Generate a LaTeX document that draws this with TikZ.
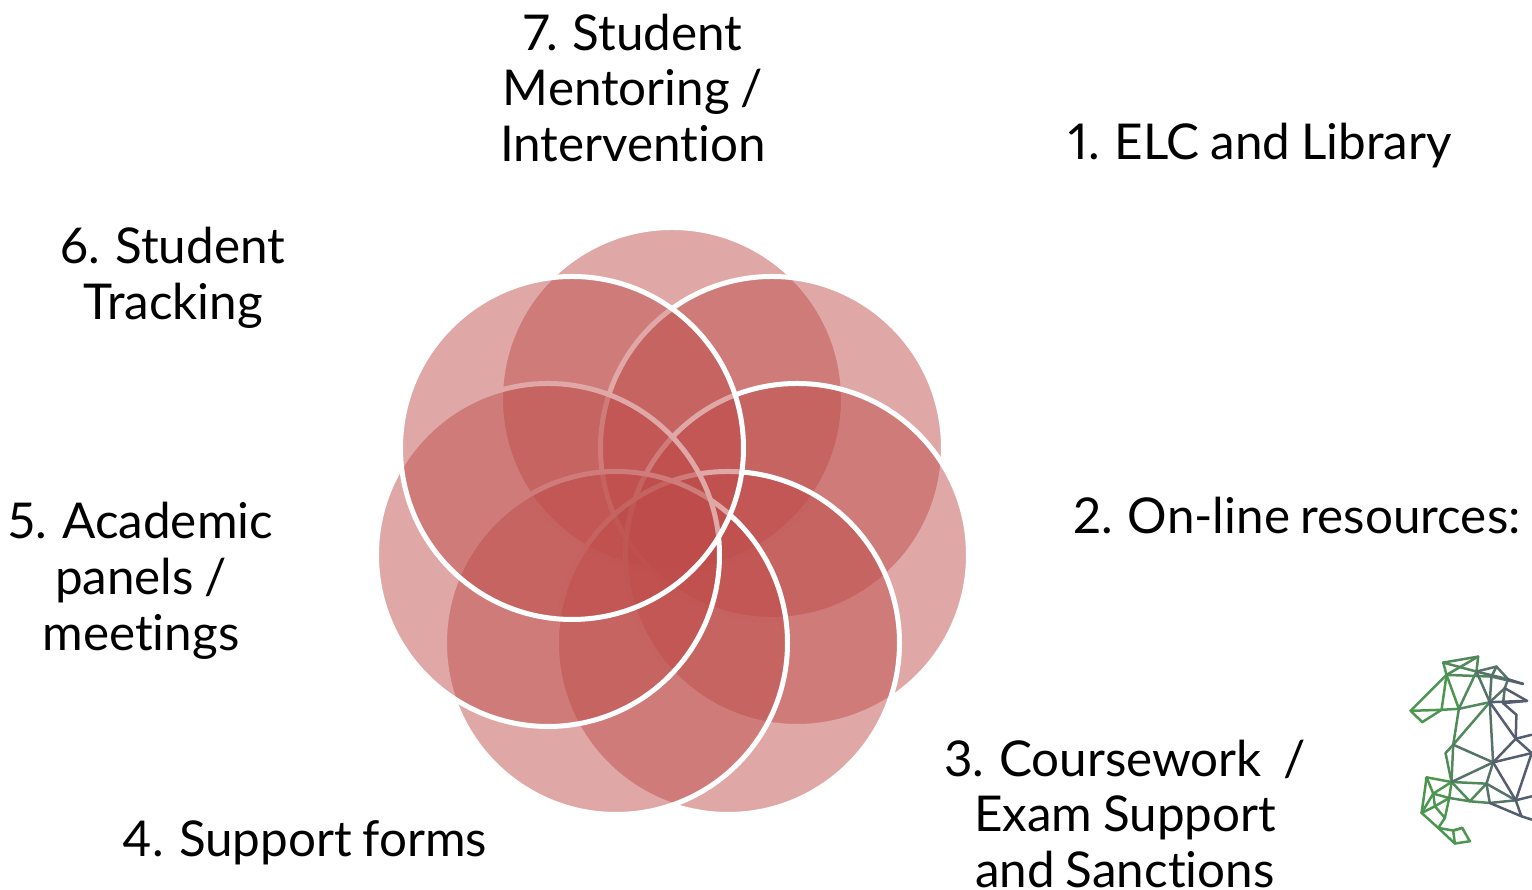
\documentclass[tikz,border=0pt]{standalone}
\usepackage{fontspec}
\setmainfont{Lato}[Numbers=Proportional, Ligatures=NoCommon, WordSpace=0.85]
\definecolor{petalred}{RGB}{189,74,72}
\definecolor{horsegreen}{RGB}{76,150,80}
\definecolor{horsemid}{RGB}{80,138,90}
\definecolor{horseslate}{RGB}{85,115,105}
\definecolor{horsegrey}{RGB}{84,94,112}
\tikzset{
	petal/.style={fill=petalred, fill opacity=0.48, draw=white, line width=0.05cm},
	caption/.style={align=center, text=black, inner sep=0, font=\fontsize{14.05}{15.85}\selectfont},
	horseline/.style={line width=0.025cm, line join=round, line cap=round}
}
\begin{document}
\begin{tikzpicture}
	%%%%% PAGE %%%%%
	\useasboundingbox (0, 0) rectangle (15.32, 8.9);
	
	%%%%% PETALS %%%%%
	\draw[petal] (6.72, 4.91) circle (1.715);
	\draw[petal] (7.72, 4.42) circle (1.715);
	\draw[petal] (7.97, 3.35) circle (1.715);
	\draw[petal] (7.28, 2.47) circle (1.715);
	\draw[petal] (6.16, 2.47) circle (1.715);
	\draw[petal] (5.48, 3.35) circle (1.715);
	\draw[petal] (5.72, 4.42) circle (1.715);
	
	%%%%% CAPTIONS %%%%%
	\node[caption] (mentoring) at (6.33, 8.02) {7. Student\\Mentoring /\\Intervention};
	\node[caption] (library) at (12.60, 7.44) {1. ELC and Library};
	\node[caption] (tracking) at (1.73, 6.12) {6. Student\\Tracking};
	\node[caption] (online) at (12.97, 3.74) {2. On-line resources:};
	\node[caption] (panels) at (1.41, 3.09) {5. Academic\\panels /\\meetings};
	\node[caption] (coursework) at (11.25, 0.76) {3. Coursework~~/\\Exam Support\\and Sanctions};
	\node[caption] (forms) at (3.05, 0.47) {4. Support forms};
	
	%%%%% HORSE %%%%%
	\begin{scope}[shift={(13.90, 2.50)}, x=0.00333cm, y=-0.00333cm]
		\coordinate (A) at (160, 68);
		\coordinate (B) at (265, 50);
		\coordinate (C) at (170, 105);
		\coordinate (D) at (260, 95);
		\coordinate (E) at (320, 80);
		\coordinate (F) at (355, 118);
		\coordinate (G) at (400, 132);
		\coordinate (H) at (305, 110);
		\coordinate (I) at (345, 145);
		\coordinate (J) at (412, 183);
		\coordinate (K) at (300, 187);
		\coordinate (L) at (340, 190);
		\coordinate (M) at (207, 207);
		\coordinate (N) at (155, 210);
		\coordinate (O) at (62, 213);
		\coordinate (P) at (97, 247);
		\coordinate (Q) at (380, 225);
		\coordinate (R) at (378, 297);
		\coordinate (S) at (426, 340);
		\coordinate (T) at (426, 285);
		\coordinate (U) at (190, 315);
		\coordinate (V) at (167, 340);
		\coordinate (W) at (185, 427);
		\coordinate (X) at (310, 368);
		\coordinate (Y) at (110, 413);
		\coordinate (Z) at (290, 432);
		\coordinate (a) at (130, 462);
		\coordinate (b) at (178, 475);
		\coordinate (c) at (240, 485);
		\coordinate (d) at (95, 520);
		\coordinate (e) at (300, 490);
		\coordinate (f) at (378, 482);
		\coordinate (g) at (395, 530);
		\coordinate (h) at (426, 470);
		\coordinate (i) at (426, 540);
		\coordinate (j) at (135, 500);
		\coordinate (k) at (165, 535);
		\coordinate (l) at (145, 565);
		\coordinate (m) at (190, 573);
		\coordinate (n) at (217, 565);
		\coordinate (o) at (240, 605);
		\coordinate (p) at (195, 612);
		
		\foreach \from/\to in {O/N, O/P, P/N, C/O, C/N, N/M, C/M, A/C, Y/W, Y/a, Y/d, a/d, a/j, a/b, d/j, d/l, j/k, j/b, b/k, k/l, l/m, l/p, m/n, n/o, o/p, p/m, n/m, a/W, b/W}
			\draw[horseline, horsegreen] (\from) -- (\to);
		\foreach \from/\to in {A/B, C/B, A/D, B/D, C/H, D/M, M/U, U/V, V/W, U/W, M/K, U/K, W/c, b/c, W/Z, Z/c, c/e}
			\draw[horseline, horsemid] (\from) -- (\to);
		\foreach \from/\to in {D/E, D/F, D/K, E/H, H/K, H/G, E/F, F/I, I/K, I/L, U/X, W/X, K/X, Z/X, Z/e, Z/f, e/f}
			\draw[horseline, horseslate] (\from) -- (\to);
		\foreach \from/\to in {F/G, I/J, K/J, L/J, L/Q, K/R, Q/R, R/T, R/S, X/R, X/S, X/f, S/f, f/g, f/h, g/i, e/g}
			\draw[horseline, horsegrey] (\from) -- (\to);
	\end{scope}
\end{tikzpicture}
\end{document}
